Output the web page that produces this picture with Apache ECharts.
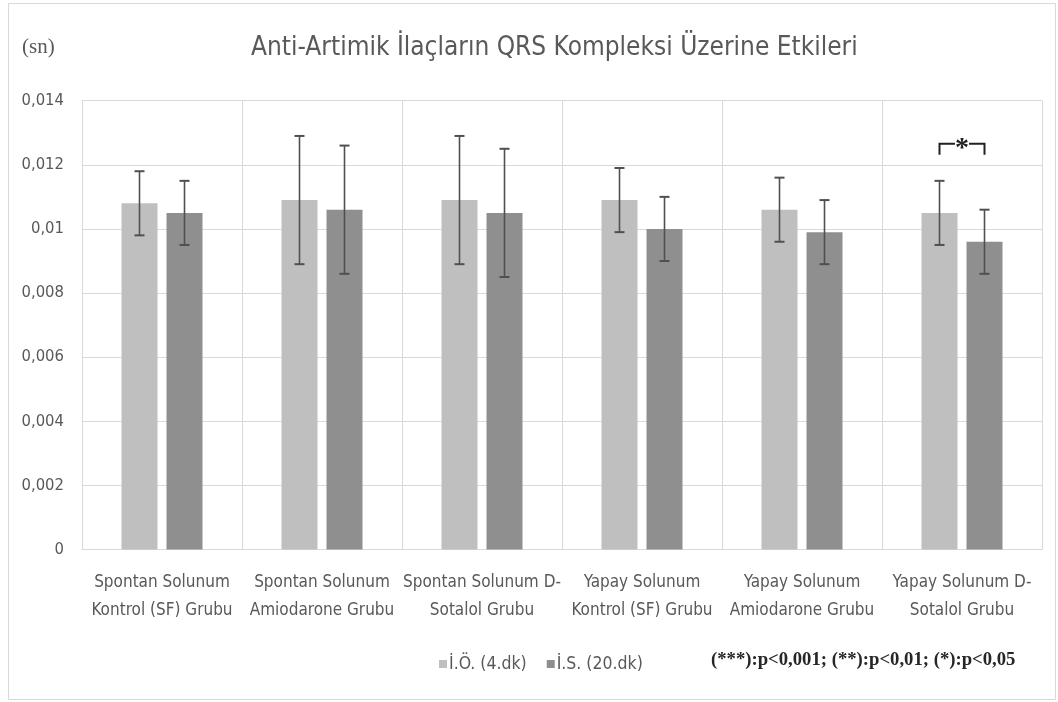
<!DOCTYPE html>
<html>
<head>
<meta charset="utf-8">
<title>QRS</title>
<script src="https://cdn.jsdelivr.net/npm/echarts@6/dist/echarts.min.js"></script>
<style>
  html, body { margin: 0; padding: 0; background: #ffffff; }
  #chart { width: 1058px; height: 702px; }
</style>
</head>
<body>
<div id="chart"></div>
<script>
// Group labels (two lines each)
const categories = [
  'Spontan Solunum\nKontrol (SF) Grubu',
  'Spontan Solunum\nAmiodarone Grubu',
  'Spontan Solunum D-\nSotalol Grubu',
  'Yapay Solunum\nKontrol (SF) Grubu',
  'Yapay Solunum\nAmiodarone Grubu',
  'Yapay Solunum D-\nSotalol Grubu'
];
const seriesNames = ['İ.Ö. (4.dk)', 'İ.S. (20.dk)'];

// Mean QRS duration (s) and standard deviation per group
const earlyQRS = [0.0108, 0.0109, 0.0109, 0.0109, 0.0106, 0.0105];
const earlySD  = [0.0010, 0.0020, 0.0020, 0.0010, 0.0010, 0.0010];
const lateQRS  = [0.0105, 0.0106, 0.0105, 0.0100, 0.0099, 0.0096];
const lateSD   = [0.0010, 0.0020, 0.0020, 0.0010, 0.0010, 0.0010];

// Significant differences between the two time points
const significance = [{ category: 5, mark: '*' }];

const yTicks = { min: 0, max: 0.014, interval: 0.002 };
const pLegend = '(***):p<0,001; (**):p<0,01; (*):p<0,05';

const NARROW = "'Liberation Sans Narrow', 'Arial Narrow', 'DejaVu Sans Condensed', sans-serif";
const SERIF = "'Liberation Serif', 'DejaVu Serif', serif";
const TEXT = '#595959';
const GRIDC = '#d9d9d9';

// bar width 22.5% of a category, gap 25% of a bar -> centre offset as fraction of category
const BAR_FRAC = 0.225, GAP_FRAC = 0.25;
const OFFSET_FRAC = (BAR_FRAC + BAR_FRAC * GAP_FRAC) / 2;

function fmt(v) {
  return Number(v.toFixed(3)).toString().replace('.', ',');
}

function errorBars(side) {
  return function (params, api) {
    const i = api.value(0), m = api.value(1), e = api.value(2);
    const catW = api.size([1, 0])[0];
    const dx = side * catW * OFFSET_FRAC;
    const top = api.coord([i, m + e]);
    const bot = api.coord([i, m - e]);
    const x = top[0] + dx;
    const cap = 5;
    const st = { stroke: '#505050', lineWidth: 1.6 };
    return {
      type: 'group',
      children: [
        { type: 'line', shape: { x1: x, y1: top[1], x2: x, y2: bot[1] }, style: st },
        { type: 'line', shape: { x1: x - cap, y1: top[1], x2: x + cap, y2: top[1] }, style: { stroke: '#505050', lineWidth: 2 } },
        { type: 'line', shape: { x1: x - cap, y1: bot[1], x2: x + cap, y2: bot[1] }, style: { stroke: '#505050', lineWidth: 2 } }
      ]
    };
  };
}

function bracket(params, api) {
  const i = api.value(0);
  const s = significance[params.dataIndex];
  const catW = api.size([1, 0])[0];
  const c = api.coord([i, 0]);
  const xl = c[0] - catW * OFFSET_FRAC;
  const xr = c[0] + catW * OFFSET_FRAC;
  const topVal = Math.max(earlyQRS[i] + earlySD[i], lateQRS[i] + lateSD[i]);
  const yTop = api.coord([i, topVal])[1];
  const y = yTop - 37;
  return {
    type: 'group',
    children: [
      { type: 'polyline', shape: { points: [[xl, y + 11], [xl, y], [xr, y], [xr, y + 11]] },
        style: { stroke: '#222', lineWidth: 2, fill: null } },
      { type: 'rect', shape: { x: c[0] - 7, y: y - 7, width: 14, height: 12 }, style: { fill: '#fff' } },
      { type: 'text', x: c[0], y: y + 5,
        style: { text: s.mark, font: 'bold 28px ' + SERIF, fill: '#222', align: 'center', verticalAlign: 'middle' } }
    ]
  };
}

const chart = echarts.init(document.getElementById('chart'), null, { renderer: 'canvas' });

chart.setOption({
  animation: false,
  backgroundColor: '#ffffff',
  title: {
    text: 'Anti-Artimik İlaçların QRS Kompleksi Üzerine Etkileri',
    left: 246,
    top: 30,
    textStyle: { fontFamily: NARROW, fontSize: 26, fontWeight: 'normal', color: TEXT }
  },
  legend: {
    data: seriesNames,
    left: 434,
    top: 650,
    icon: 'rect',
    itemWidth: 8,
    itemHeight: 8,
    itemGap: 20,
    textStyle: { fontFamily: NARROW, fontSize: 17.5, color: TEXT, padding: [0, 0, 0, -3] }
  },
  grid: { left: 82, right: 16, top: 100.7, bottom: 152.5, containLabel: false },
  xAxis: {
    type: 'category',
    data: categories,
    axisLine: { show: true, lineStyle: { color: GRIDC, width: 1 } },
    axisTick: { show: false },
    splitLine: { show: true, lineStyle: { color: GRIDC, width: 1 } },
    axisLabel: {
      interval: 0,
      margin: 19,
      fontFamily: NARROW,
      fontSize: 17,
      lineHeight: 28,
      color: TEXT
    }
  },
  yAxis: {
    type: 'value',
    min: yTicks.min,
    max: yTicks.max,
    interval: yTicks.interval,
    axisLine: { show: true, lineStyle: { color: GRIDC } },
    axisTick: { show: false },
    splitLine: { show: true, lineStyle: { color: GRIDC, width: 1 } },
    axisLabel: {
      formatter: fmt,
      margin: 18,
      fontFamily: NARROW,
      fontSize: 16.5,
      color: TEXT
    }
  },
  graphic: [
    { type: 'rect', shape: { x: 8.5, y: 3.5, width: 1047, height: 696 },
      style: { fill: null, stroke: '#d9d9d9', lineWidth: 1 }, z: -1 },
    { type: 'text', left: 22, top: 37,
      style: { text: '(sn)', font: '21px ' + SERIF, fill: TEXT } },
    { type: 'text', left: 711, top: 651,
      style: { text: pLegend, font: 'bold 18.7px ' + SERIF, fill: '#262626' } }
  ],
  series: [
    {
      name: seriesNames[0], type: 'bar', data: earlyQRS,
      barWidth: (BAR_FRAC * 100) + '%', barGap: (GAP_FRAC * 100) + '%',
      itemStyle: { color: '#bfbfbf' }
    },
    {
      name: seriesNames[1], type: 'bar', data: lateQRS,
      barWidth: (BAR_FRAC * 100) + '%', barGap: (GAP_FRAC * 100) + '%',
      itemStyle: { color: '#8f8f8f' }
    },
    {
      type: 'custom', name: 'err0', z: 5,
      data: earlyQRS.map((v, i) => [i, v, earlySD[i]]),
      encode: { x: 0, y: 1 },
      renderItem: errorBars(-1)
    },
    {
      type: 'custom', name: 'err1', z: 5,
      data: lateQRS.map((v, i) => [i, v, lateSD[i]]),
      encode: { x: 0, y: 1 },
      renderItem: errorBars(1)
    },
    {
      type: 'custom', name: 'sig', z: 6,
      data: significance.map(s => [s.category, 0]),
      encode: { x: 0, y: 1 },
      renderItem: bracket
    }
  ]
});
</script>
</body>
</html>
